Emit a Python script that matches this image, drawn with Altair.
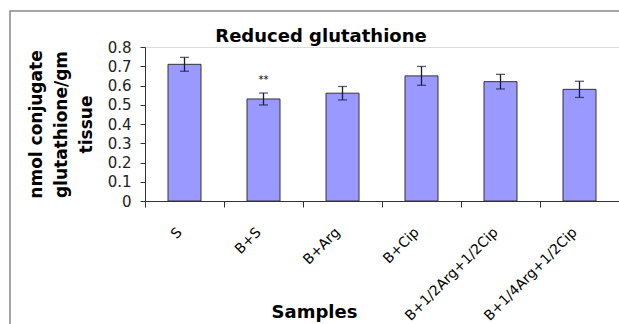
import altair as alt
import pandas as pd

samples = ["S", "B+S", "B+Arg", "B+Cip", "B+1/2Arg+1/2Cip", "B+1/4Arg+1/2Cip"]
values = [0.71, 0.53, 0.56, 0.65, 0.62, 0.58]
errors = [0.036, 0.031, 0.035, 0.049, 0.038, 0.042]
marks = ["", "**", "", "", "", ""]
y_ticks = [0, 0.1, 0.2, 0.3, 0.4, 0.5, 0.6, 0.7, 0.8]

df = pd.DataFrame({"sample": samples, "value": values, "err": errors, "sig": marks})
df["lo"] = df["value"] - df["err"]
df["hi"] = df["value"] + df["err"]

FONT = "DejaVu Sans"

xaxis = alt.Axis(
    title="Samples",
    titleFont=FONT, titleFontSize=18, titleFontWeight="bold", titleColor="#000",
    titleX=169, titleY=111, titleBaseline="middle", titleAlign="center",
    labelAngle=-45, labelFont=FONT, labelFontSize=14, labelColor="#000",
    labelPadding=18, labelOffset=-10,
    tickBand="extent", tickSize=6, tickColor="#333", domainColor="#333",
    labelOverlap=False,
)
yaxis = alt.Axis(
    title=["nmol conjugate", "glutathione/gm", "tissue"],
    titleFont=FONT, titleFontSize=17, titleFontWeight="bold", titleColor="#000",
    titleLineHeight=25, titleAngle=-90,
    titleX=-109, titleY=77, titleBaseline="middle", titleAlign="center",
    values=y_ticks, tickCount=9,
    labelExpr="datum.value == 0 ? '0' : format(datum.value, '.1f')",
    labelFont=FONT, labelFontSize=15, labelColor="#222", labelPadding=9,
    labelOverlap=False, labelFlush=False,
    tickSize=5, tickColor="#333", domainColor="#333", grid=False,
)
xs = alt.Scale(paddingInner=0, paddingOuter=0)
ys = alt.Scale(domain=[0, 0.8], nice=False)


def X():
    return alt.X("sample:N", sort=samples, scale=xs, axis=xaxis)


def Y(field):
    return alt.Y(field, type="quantitative", scale=ys, axis=yaxis)


base = alt.Chart(df)

frame = alt.Chart(alt.Data(values=[{}])).mark_rect(
    fill="transparent", stroke="#888888", strokeWidth=1.5
).encode(
    x=alt.value(-135), x2=alt.value(700), y=alt.value(-36), y2=alt.value(400)
)

bars = base.mark_bar(
    size=33, color="#9999ff", stroke="#333333", strokeWidth=1
).encode(x=X(), y=Y("value"))

rules = base.mark_rule(color="#1a1a40", strokeWidth=1.3).encode(
    x=X(), y=Y("lo"), y2="hi:Q"
)
caps_hi = base.mark_tick(color="#1a1a40", size=9, thickness=1.3, orient="horizontal").encode(
    x=X(), y=Y("hi")
)
caps_lo = base.mark_tick(color="#1a1a40", size=9, thickness=1.3, orient="horizontal").encode(
    x=X(), y=Y("lo")
)
sig = base.mark_text(font=FONT, fontSize=10, baseline="bottom", dy=-8, color="#000").encode(
    x=X(), y=Y("hi"), text="sig:N"
)

chart = alt.layer(frame, bars, rules, caps_hi, caps_lo, sig).properties(
    width=474,
    height=154,
    padding={"left": 145, "top": 47, "right": 0, "bottom": 123},
    autosize=alt.AutoSizeParams(type="none"),
    title=alt.TitleParams(
        "Reduced glutathione", font=FONT, fontSize=18, fontWeight="bold",
        color="#000", anchor="middle", dx=-61, dy=38, offset=2, frame="group",
    ),
).configure_view(stroke=None).configure(background="white")

chart.save("out.html", embed_options={"renderer": "svg", "actions": False})
